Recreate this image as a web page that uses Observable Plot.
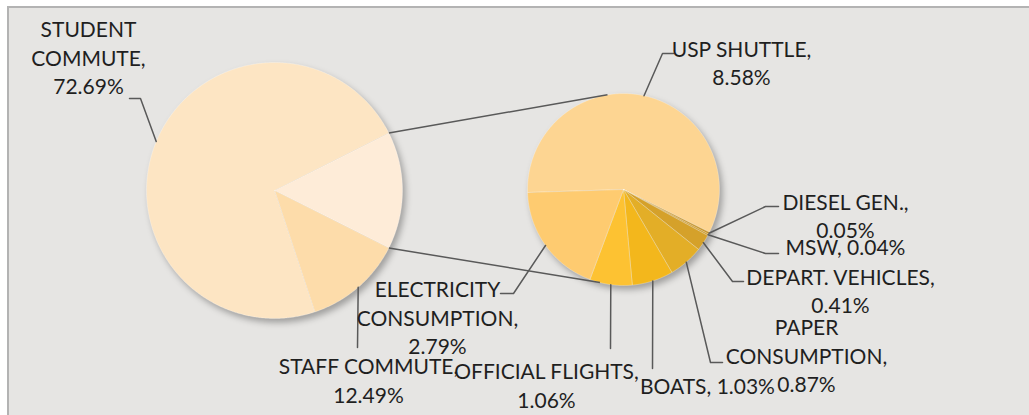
<!DOCTYPE html>
<html><head><meta charset="utf-8">
<script src="https://cdn.jsdelivr.net/npm/d3@7"></script>
<script src="https://cdn.jsdelivr.net/npm/@observablehq/plot@0.6"></script>
<style>
html,body{margin:0;padding:0;background:#fff;overflow:hidden}
#wrap{position:relative;width:1029px;height:415px;overflow:hidden}
#bg{position:absolute;left:7px;top:6px;width:1040px;height:430px;background:#e6e5e3;border-top:2px solid #b3b3b3;border-left:2px solid #b3b3b3}
#chart{position:absolute;left:0;top:0}
</style></head><body><div id="wrap"><div id="bg"></div><div id="chart"></div></div>
<script>
// ---- data (percent of total emissions) ----
const mainCategories = ["STUDENT COMMUTE", "STAFF COMMUTE"];
const mainValues = [72.69, 12.49];
const subCategories = ["USP SHUTTLE", "DIESEL GEN.", "MSW", "DEPART. VEHICLES", "PAPER CONSUMPTION", "BOATS", "OFFICIAL FLIGHTS", "ELECTRICITY CONSUMPTION"];
const subValues = [8.58, 0.05, 0.04, 0.41, 0.87, 1.03, 1.06, 2.79];
const otherName = "OTHER";

// ---- styles ----
const mainColors = {"OTHER": "#feecd8", "STAFF COMMUTE": "#fddcaa", "STUDENT COMMUTE": "#fde5c3"};
const subColors = ["#fdd592", "#c99526", "#cf9b28", "#d5a12a", "#e3ae27", "#f3b71c", "#fdc232", "#fecb70"];

// ---- layout (pixels) ----
const big = {cx: 274, cy: 190, r: 128};
const small = {cx: 623, cy: 189, r: 96, start: 178.2};
const connectorAngles = [260.4, 104.2]; // where the connector lines meet the small pie
const labelLayout = {
  "STUDENT COMMUTE":         {x: 88,  y: 56,  breakName: true,  breakValue: true,  elbow: [140, 98],  end: [129, 98]},
  "STAFF COMMUTE":           {x: 368, y: 379, breakName: false, breakValue: true,  elbow: [357, 347], end: [357, 347]},
  "USP SHUTTLE":             {x: 741, y: 61.5,breakName: false, breakValue: true,  elbow: [662, 53],  end: [673, 53]},
  "DIESEL GEN.":             {x: 845, y: 214.5,breakName: false,breakValue: true,  elbow: [765, 206], end: [778, 206]},
  "MSW":                     {x: 845, y: 245, breakName: false, breakValue: false, elbow: [765, 253], end: [778, 253]},
  "DEPART. VEHICLES":        {x: 840, y: 289.5,breakName: false,breakValue: true,  elbow: [732, 281], end: [743, 281]},
  "PAPER CONSUMPTION":       {x: 806, y: 354, breakName: true,  breakValue: true,  elbow: [710, 362], end: [722, 362]},
  "BOATS":                   {x: 707, y: 384, breakName: false, breakValue: false, elbow: [652, 368], end: [652, 368]},
  "OFFICIAL FLIGHTS":        {x: 546, y: 384, breakName: false, breakValue: true,  elbow: [610, 348], end: [610, 348]},
  "ELECTRICITY CONSUMPTION": {x: 437, y: 316, breakName: true,  breakValue: true,  elbow: [513, 293], end: [500, 293]}
};

const rad = Math.PI / 180;
const otherValue = d3.sum(subValues);

// big pie: other slice centred on the right, then clockwise
const bigSlicesData = [
  {name: otherName, value: otherValue},
  ...mainCategories.map((c, i) => ({name: c, value: mainValues[i]})).reverse()
];
const bigTotal = d3.sum(bigSlicesData, d => d.value);
const otherSpan = otherValue / bigTotal * 360;
function layoutPie(items, total, start, pie) {
  let a = start;
  return items.map(d => {
    const span = d.value / total * 360;
    const s = {...d, a0: a, a1: a + span, pie};
    a += span;
    return s;
  });
}
const bigSlices = layoutPie(bigSlicesData, bigTotal, -otherSpan / 2, big);
const smallSlices = layoutPie(subCategories.map((c, i) => ({name: c, value: subValues[i]})), otherValue, small.start, small);

function polygon(s) {
  const {cx, cy, r} = s.pie;
  const pts = [{name: s.name, x: cx, y: cy}];
  const n = Math.max(2, Math.ceil((s.a1 - s.a0) / 0.5));
  for (let i = 0; i <= n; i++) {
    const a = (s.a0 + (s.a1 - s.a0) * i / n) * rad;
    pts.push({name: s.name, x: cx + r * Math.cos(a), y: cy + r * Math.sin(a)});
  }
  pts.push({name: s.name, x: cx, y: cy});
  return pts;
}
const slicePoints = [...bigSlices, ...smallSlices].flatMap(polygon);
const colorDomain = [...bigSlices.map(d => d.name), ...smallSlices.map(d => d.name)];
const colorRange = [...bigSlices.map(d => mainColors[d.name]), ...subColors];

// labels and leader lines
const labelSlices = [...bigSlices.filter(d => d.name !== otherName), ...smallSlices];
const labels = labelSlices.map(s => {
  const L = labelLayout[s.name];
  const name = L.breakName ? s.name.replace(" ", "\n") : s.name;
  return {name: s.name, x: L.x, y: L.y, text: name + "," + (L.breakValue ? "\n" : " ") + s.value.toFixed(2) + "%"};
});
const leaders = labelSlices.flatMap(s => {
  const L = labelLayout[s.name];
  const m = (s.a0 + s.a1) / 2 * rad;
  const {cx, cy, r} = s.pie;
  return [
    {name: s.name, x: cx + r * Math.cos(m), y: cy + r * Math.sin(m)},
    {name: s.name, x: L.elbow[0], y: L.elbow[1]},
    {name: s.name, x: L.end[0], y: L.end[1]}
  ];
});
const other = bigSlices[0];
const connectors = [other.a0, other.a1].map((a, i) => ({
  x1: big.cx + big.r * Math.cos(a * rad), y1: big.cy + big.r * Math.sin(a * rad),
  x2: small.cx + small.r * Math.cos(connectorAngles[i] * rad), y2: small.cy + small.r * Math.sin(connectorAngles[i] * rad)
}));

const chart = Plot.plot({
  width: 1029, height: 415,
  margin: 0,
  x: {domain: [0, 1029], range: [0, 1029], axis: null},
  y: {domain: [0, 415], range: [0, 415], axis: null},
  color: {domain: colorDomain, range: colorRange},
  style: {background: "transparent", overflow: "visible"},
  marks: [
    Plot.line(slicePoints, {x: "x", y: "y", z: "name", fill: "name", stroke: "#ffffff", strokeOpacity: 0.45, strokeWidth: 0.6, curve: "linear"}),
    Plot.link(connectors, {x1: "x1", y1: "y1", x2: "x2", y2: "y2", stroke: "#595959", strokeWidth: 1.5}),
    Plot.line(leaders, {x: "x", y: "y", z: "name", stroke: "#595959", strokeWidth: 1.5}),
    Plot.text(labels, {x: "x", y: "y", text: "text", fontSize: 21, lineHeight: 1.36, fill: "#1f1f1f", textAnchor: "middle", fontFamily: "Lato"})
  ]
});
const g = chart.querySelector('g[aria-label="line"]');
if (g) g.style.filter = "drop-shadow(3px 4px 3px rgba(0,0,0,0.3))";
document.getElementById("chart").appendChild(chart);
</script>
</body></html>
